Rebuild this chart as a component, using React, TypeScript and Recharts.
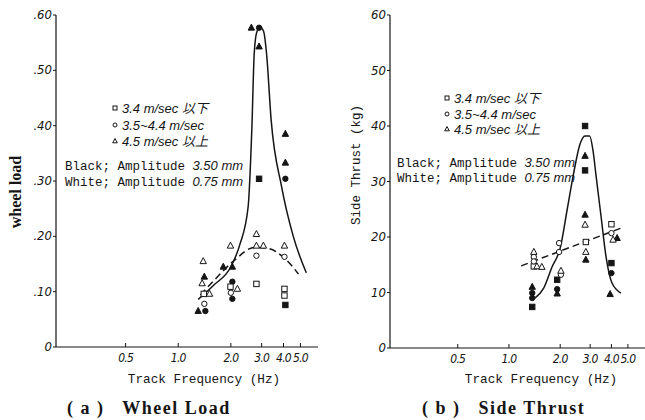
import React from 'react';
import { ComposedChart, Line, Scatter, XAxis, YAxis } from 'recharts';

// shared frequency axis (Hz, log)
const xTicks = [0.5, 1, 2, 3, 4, 5];
const xTickLabels = ['0.5', '1.0', '2.0', '3.0', '4.0', '5.0'];

// (a) wheel load
const loadTicks = [0, 0.1, 0.2, 0.3, 0.4, 0.5, 0.6];
const loadTickLabels = ['0', '.10', '.20', '.30', '.40', '.50', '.60'];
const loadBlackTri = [[2.62, 0.577], [2.9, 0.543], [4.1, 0.385], [4.1, 0.333], [2.04, 0.145], [1.81, 0.145], [1.41, 0.127], [1.3, 0.065]];
const loadBlackCirc = [[2.9, 0.577], [4.1, 0.304], [2.04, 0.118], [2.04, 0.087], [1.43, 0.065]];
const loadBlackSq = [[2.9, 0.304], [4.1, 0.076]];
const loadWhiteTri = [[2.8, 0.204], [2.8, 0.183], [3.07, 0.183], [4.05, 0.183], [1.99, 0.183], [2.18, 0.105], [1.39, 0.155], [1.37, 0.115], [1.51, 0.096]];
const loadWhiteCirc = [[2.8, 0.165], [4.05, 0.163], [2.0, 0.098], [1.41, 0.078]];
const loadWhiteSq = [[2.8, 0.114], [4.05, 0.105], [4.05, 0.093], [1.99, 0.109], [1.4, 0.096]];
const loadSolid = [[1.3, 0.086], [1.6, 0.112], [2.0, 0.145], [2.25, 0.185], [2.51, 0.253], [2.64, 0.4], [2.72, 0.53], [2.82, 0.57], [2.95, 0.578], [3.08, 0.57], [3.2, 0.53], [3.4, 0.41], [3.9, 0.29], [4.55, 0.2], [5.4, 0.134]];
const loadDashed = [[1.34, 0.094], [1.61, 0.121], [2.1, 0.157], [2.73, 0.18], [3.27, 0.178], [4.07, 0.16], [4.87, 0.132]];

// (b) side thrust
const thrustTicks = [0, 10, 20, 30, 40, 50, 60];
const thrustTickLabels = ['0', '10', '20', '30', '40', '50', '60'];
const thrustBlackSq = [[2.8, 40], [2.8, 32], [4.0, 15.3], [1.92, 12.3], [1.37, 7.4]];
const thrustBlackTri = [[2.8, 34.6], [2.8, 24], [2.83, 15.9], [4.32, 19.8], [3.93, 9.7], [1.37, 11], [1.92, 9.8]];
const thrustBlackCirc = [[4.0, 13.5], [1.92, 10.6], [1.37, 9.9], [1.37, 9.0]];
const thrustWhiteSq = [[2.83, 19.1], [4.0, 22.3], [1.4, 14.7]];
const thrustWhiteCirc = [[4.0, 20.7], [1.97, 18.9], [1.97, 17.3], [2.02, 13.2], [1.4, 16.4], [1.4, 15.6]];
const thrustWhiteTri = [[2.8, 22.2], [2.83, 17.3], [4.09, 19.5], [2.02, 13.9], [1.4, 17.3], [1.46, 14.7], [1.56, 14.6]];
const thrustSolid = [[1.42, 9.0], [1.6, 10.8], [1.79, 14.6], [2.0, 18], [2.2, 25], [2.4, 31.5], [2.6, 36.5], [2.8, 38.2], [2.98, 38.2], [3.12, 35.5], [3.25, 31], [3.48, 23.6], [3.72, 16.4], [4.03, 11.7], [4.55, 9.9]];
const thrustDashed = [[1.18, 14.8], [4.55, 21.6]];

const INK = '#151515';
const pts = (a: number[][]) => a.map(([f, v]) => ({ f, v }));
const tickFont = "'Liberation Sans Narrow', 'DejaVu Sans Condensed', 'Liberation Sans', sans-serif";
const mono = "'Liberation Mono', 'DejaVu Sans Mono', monospace";
const serif = "'Liberation Serif', 'DejaVu Serif', serif";
const legendFont = "'Liberation Sans Narrow', 'Liberation Sans', 'Noto Sans CJK JP', sans-serif";

const marker = (kind: string, filled: boolean) => (props: any) => {
  const { cx, cy } = props;
  if (cx == null || cy == null) return <g />;
  const fill = filled ? INK : '#fff';
  if (kind === 'tri')
    return <path d={`M${cx},${cy - 3.6}L${cx + 3.2},${cy + 2.4}L${cx - 3.2},${cy + 2.4}Z`} fill={fill} stroke={INK} strokeWidth={1} />;
  if (kind === 'sq')
    return <rect x={cx - 2.7} y={cy - 2.7} width={5.4} height={5.4} fill={fill} stroke={INK} strokeWidth={1} />;
  return <circle cx={cx} cy={cy} r={2.7} fill={fill} stroke={INK} strokeWidth={1} />;
};

const XTick = (props: any) => {
  const { x, y, payload } = props;
  const i = xTicks.indexOf(payload.value);
  return (
    <g>
      <line x1={x} x2={x} y1={y} y2={y - 4} stroke={INK} strokeWidth={1} />
      <text x={x} y={y + 15} textAnchor="middle" fontFamily={tickFont} fontStyle="italic" fontSize={12} letterSpacing={-0.8} fill={INK}>
        {xTickLabels[i]}
      </text>
    </g>
  );
};

const makeYTick = (ticks: number[], labels: string[]) => (props: any) => {
  const { x, y, payload } = props;
  const i = ticks.indexOf(payload.value);
  return (
    <g>
      <line x1={x} x2={x - 3} y1={y} y2={y} stroke={INK} strokeWidth={1} />
      <text x={x - 4} y={y + 4} textAnchor="end" fontFamily={tickFont} fontStyle="italic" fontSize={13} fill={INK}>
        {labels[i]}
      </text>
    </g>
  );
};

type PanelProps = {
  width: number;
  left: number;
  right: number;
  bottom: number;
  yMax: number;
  yTicks: number[];
  yLabels: string[];
  series: [number[][], string, boolean][];
  solid: number[][];
  dashed: number[][];
};

const Panel = ({ width, left, right, bottom, yMax, yTicks, yLabels, series, solid, dashed }: PanelProps) => (
  <ComposedChart width={width} height={420} margin={{ top: 15, right, bottom: bottom - 30, left: left - 40 }}>
    <XAxis
      dataKey="f"
      type="number"
      scale="log"
      domain={[0.2, 6.3]}
      allowDataOverflow
      ticks={xTicks}
      interval={0}
      height={30}
      tickSize={0}
      tickMargin={0}
      tickLine={false}
      tick={<XTick />}
      axisLine={{ stroke: INK, strokeWidth: 1.2 }}
    />
    <YAxis
      dataKey="v"
      type="number"
      domain={[0, yMax]}
      allowDataOverflow
      ticks={yTicks}
      interval={0}
      width={40}
      tickSize={0}
      tickMargin={0}
      tickLine={false}
      tick={makeYTick(yTicks, yLabels)}
      axisLine={{ stroke: INK, strokeWidth: 1.2 }}
    />
    <Line data={pts(solid)} dataKey="v" type="monotone" stroke={INK} strokeWidth={1.5} dot={false} isAnimationActive={false} />
    <Line data={pts(dashed)} dataKey="v" type="monotone" stroke={INK} strokeWidth={1.5} strokeDasharray="7 4" dot={false} isAnimationActive={false} />
    {series.map(([d, kind, filled], i) => (
      <Scatter key={i} data={pts(d)} shape={marker(kind, filled)} isAnimationActive={false} />
    ))}
  </ComposedChart>
);

const LegendBlock = ({ x, ys, tx, by }: { x: number; ys: number[]; tx: number; by: number[] }) => {
  const labels = ['3.4 m/sec 以下', '3.5~4.4 m/sec', '4.5 m/sec 以上'];
  return (
    <g>
      <rect x={x - 2} y={ys[0] - 2} width={4} height={4} fill="#fff" stroke={INK} strokeWidth={1} />
      <circle cx={x} cy={ys[1]} r={2} fill="#fff" stroke={INK} strokeWidth={1} />
      <path d={`M${x},${ys[2] - 2.5}L${x + 2.3},${ys[2] + 1.8}L${x - 2.3},${ys[2] + 1.8}Z`} fill="#fff" stroke={INK} strokeWidth={1} />
      {labels.map((l, i) => (
        <text key={l} x={x + 7} y={ys[i] + 4.5} fontFamily={legendFont} fontStyle="italic" fontSize={13} fill={INK}>
          {l}
        </text>
      ))}
      <text x={tx} y={by[0]} fontSize={12.5} fill={INK}>
        <tspan fontFamily={mono}>Black; Amplitude </tspan>
        <tspan fontFamily={legendFont} fontStyle="italic" fontSize={13}>3.50 mm</tspan>
      </text>
      <text x={tx} y={by[1]} fontSize={12.5} fill={INK}>
        <tspan fontFamily={mono}>White; Amplitude </tspan>
        <tspan fontFamily={legendFont} fontStyle="italic" fontSize={13}>0.75 mm</tspan>
      </text>
    </g>
  );
};

export default function App() {
  return (
    <div style={{ position: 'absolute', left: 0, top: 0, width: 645, height: 420, background: '#fff', overflow: 'hidden' }}>
      <div style={{ position: 'absolute', left: 0, top: 0 }}>
        <Panel
          width={322}
          left={56}
          right={4}
          bottom={73}
          yMax={0.6}
          yTicks={loadTicks}
          yLabels={loadTickLabels}
          series={[
            [loadBlackTri, 'tri', true],
            [loadBlackCirc, 'circ', true],
            [loadBlackSq, 'sq', true],
            [loadWhiteTri, 'tri', false],
            [loadWhiteCirc, 'circ', false],
            [loadWhiteSq, 'sq', false],
          ]}
          solid={loadSolid}
          dashed={loadDashed}
        />
      </div>
      <div style={{ position: 'absolute', left: 322, top: 0 }}>
        <Panel
          width={323}
          left={68}
          right={0}
          bottom={72}
          yMax={60}
          yTicks={thrustTicks}
          yLabels={thrustTickLabels}
          series={[
            [thrustBlackSq, 'sq', true],
            [thrustBlackTri, 'tri', true],
            [thrustBlackCirc, 'circ', true],
            [thrustWhiteSq, 'sq', false],
            [thrustWhiteCirc, 'circ', false],
            [thrustWhiteTri, 'tri', false],
          ]}
          solid={thrustSolid}
          dashed={thrustDashed}
        />
      </div>
      <svg width={645} height={420} style={{ position: 'absolute', left: 0, top: 0, pointerEvents: 'none' }}>
        <LegendBlock x={115} ys={[108, 125, 141]} tx={65} by={[170, 186]} />
        <LegendBlock x={447} ys={[98, 114, 129]} tx={397} by={[167, 182]} />
        <text transform="translate(21,192) rotate(-90)" textAnchor="middle" fontFamily={serif} fontWeight="bold" fontSize={16} fill={INK}>
          wheel load
        </text>
        <text transform="translate(360,165) rotate(-90)" textAnchor="middle" fontFamily={mono} fontSize={12.5} fill={INK}>
          Side Thrust (kg)
        </text>
        <text x={204} y={383} textAnchor="middle" fontFamily={mono} fontSize={12.7} fill={INK}>
          Track Frequency (Hz)
        </text>
        <text x={541} y={383} textAnchor="middle" fontFamily={mono} fontSize={12.7} fill={INK}>
          Track Frequency (Hz)
        </text>
        <text x={67} y={414} fontFamily={serif} fontWeight="bold" fontSize={18} letterSpacing={1.5} fill={INK} style={{ whiteSpace: 'pre' }}>
          ( a )   Wheel Load
        </text>
        <text x={422} y={414} fontFamily={serif} fontWeight="bold" fontSize={18} letterSpacing={1.5} fill={INK} style={{ whiteSpace: 'pre' }}>
          ( b )   Side Thrust
        </text>
      </svg>
    </div>
  );
}
